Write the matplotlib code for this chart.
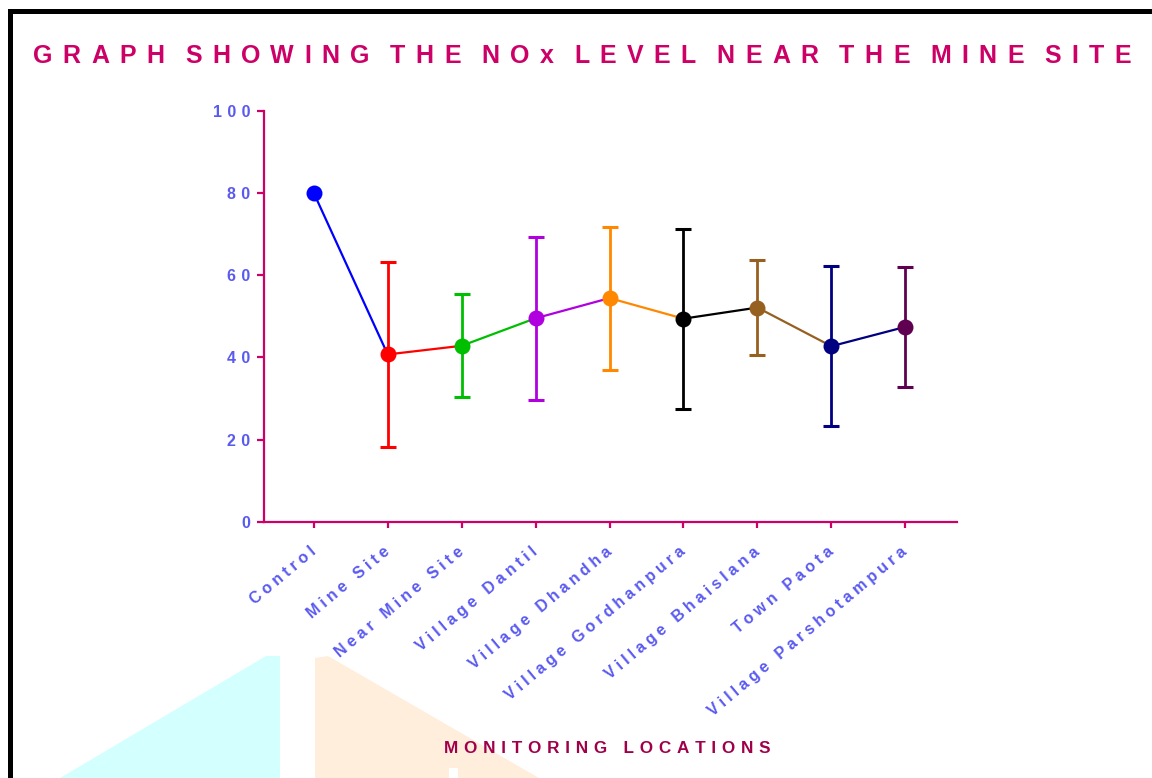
import numpy as np
import matplotlib
matplotlib.use("Agg")
import matplotlib.pyplot as plt
from matplotlib.patches import Polygon, Rectangle
from matplotlib.lines import Line2D
from matplotlib.font_manager import FontProperties, findfont
from matplotlib.ft2font import FT2Font

plt.rcParams['font.family'] = ['Liberation Sans', 'DejaVu Sans']
plt.rcParams['font.weight'] = 'bold'

locations = ['Control', 'Mine Site', 'Near Mine Site', 'Village Dantil', 'Village Dhandha',
             'Village Gordhanpura', 'Village Bhaislana', 'Town Paota', 'Village Parshotampura']
nox_mean = [80.0, 40.7, 42.8, 49.5, 54.4, 49.4, 52.1, 42.7, 47.4]
nox_sd = [np.nan, 22.6, 12.5, 19.8, 17.4, 21.9, 11.5, 19.5, 14.6]
point_colors = ['#0000FF', '#FF0000', '#00BF00', '#B000E0', '#FF8800',
                '#000000', '#956020', '#000080', '#600050']
y_ticks = [0, 20, 40, 60, 80, 100]

TITLE_COLOR = '#CC0066'
LABEL_COLOR = '#A0004A'
TICK_COLOR = '#5A5AF0'
W, H = 1152, 778


def espaciar(texto, sep=' '):
    return sep.join(list(texto))


def px(x, y):
    # pixel (from top-left) -> figure fraction
    return (x / W, 1 - y / H)


def texto_espaciado(fig, texto, x_centro, y_base, size, tracking, extra_espacio, color):
    # draws the text one glyph at a time, adding `tracking` px after each letter
    prop = FontProperties(family='Liberation Sans', weight='bold', size=size)
    font = FT2Font(findfont(prop))
    font.set_size(size, fig.dpi)
    avances = [font.load_char(ord(c)).linearHoriAdvance / 65536 for c in texto]
    pos = []
    pen = 0.0
    for i, c in enumerate(texto):
        pos.append(pen)
        pen += avances[i]
        if c == ' ':
            pen += extra_espacio
        elif i < len(texto) - 1:
            pen += tracking
    inicio = x_centro - pen / 2
    for c, p in zip(texto, pos):
        if c == ' ':
            continue
        fig.text((inicio + p) / W, 1 - y_base / H, c, fontproperties=prop, color=color,
                 ha='left', va='baseline')


fig = plt.figure(figsize=(W / 100, H / 100), dpi=100)
fig.patch.set_facecolor('white')

# background shapes at the bottom
fig.add_artist(Polygon([px(60, 778), px(266, 656), px(280, 656), px(280, 778)],
                       closed=True, facecolor='#D4FFFF', edgecolor='none',
                       transform=fig.transFigure, zorder=0))
fig.add_artist(Polygon([px(315, 778), px(315, 658), px(328, 656), px(539, 778)],
                       closed=True, facecolor='#FFEEDC', edgecolor='none',
                       transform=fig.transFigure, zorder=0))
fig.add_artist(Rectangle(px(449, 778), 9 / W, 10 / H, facecolor='white', edgecolor='none',
                         transform=fig.transFigure, zorder=0))

# black frame on left and top
fig.add_artist(Line2D([10 / W, 10 / W, 1.0], [0.0, 1 - 11 / H, 1 - 11 / H],
                      color='black', linewidth=3.6, transform=fig.transFigure,
                      solid_joinstyle='miter'))

ax = fig.add_axes([264 / W, 1 - 521.7 / H, (956.7 - 264) / W, (521.7 - 110.7) / H])
ax.set_facecolor('none')

x = np.arange(len(locations))

# connecting segments, each in the colour of its left point
for i in range(len(x) - 1):
    ax.plot(x[i:i + 2], nox_mean[i:i + 2], color=point_colors[i], linewidth=1.6, zorder=2)

for i in range(len(x)):
    if not np.isnan(nox_sd[i]):
        ax.errorbar(x[i], nox_mean[i], yerr=nox_sd[i], fmt='none', ecolor=point_colors[i],
                    elinewidth=2.0, capsize=5.8, capthick=2.2, zorder=3)
    ax.plot(x[i], nox_mean[i], 'o', color=point_colors[i], markersize=11.5,
            markeredgewidth=0, zorder=4)

ax.set_xlim(-0.673, 8.695)
ax.set_ylim(0, 100)

for s in ['top', 'right']:
    ax.spines[s].set_visible(False)
for s in ['left', 'bottom']:
    ax.spines[s].set_color(TITLE_COLOR)
    ax.spines[s].set_linewidth(1.6)

ax.set_yticks(y_ticks)
ax.set_yticklabels([espaciar(str(v), '\u2004') for v in y_ticks])
ax.set_xticks(x)
ax.set_xticklabels([espaciar(n, '\u2005') for n in locations], rotation=40,
                   ha='right', va='center', rotation_mode='anchor')

ax.tick_params(axis='y', colors=TICK_COLOR, labelsize=11.5, length=5, width=1.6,
               pad=5, color=TITLE_COLOR)
ax.tick_params(axis='x', colors=TICK_COLOR, labelsize=11.5, length=4, width=1.6,
               pad=16, color=TITLE_COLOR)
for lab in ax.get_xticklabels() + ax.get_yticklabels():
    lab.set_fontweight('bold')

texto_espaciado(fig, 'GRAPH SHOWING THE NOx LEVEL NEAR THE MINE SITE', 582, 63, 18, 10.3, 3.5,
                TITLE_COLOR)
fig.text(607 / W, 1 - 748.5 / H, espaciar('MONITORING LOCATIONS', '\u2004'),
         color=LABEL_COLOR, fontsize=12.3, fontweight='bold', ha='center', va='center')

fig.savefig('out.png', dpi=100)
